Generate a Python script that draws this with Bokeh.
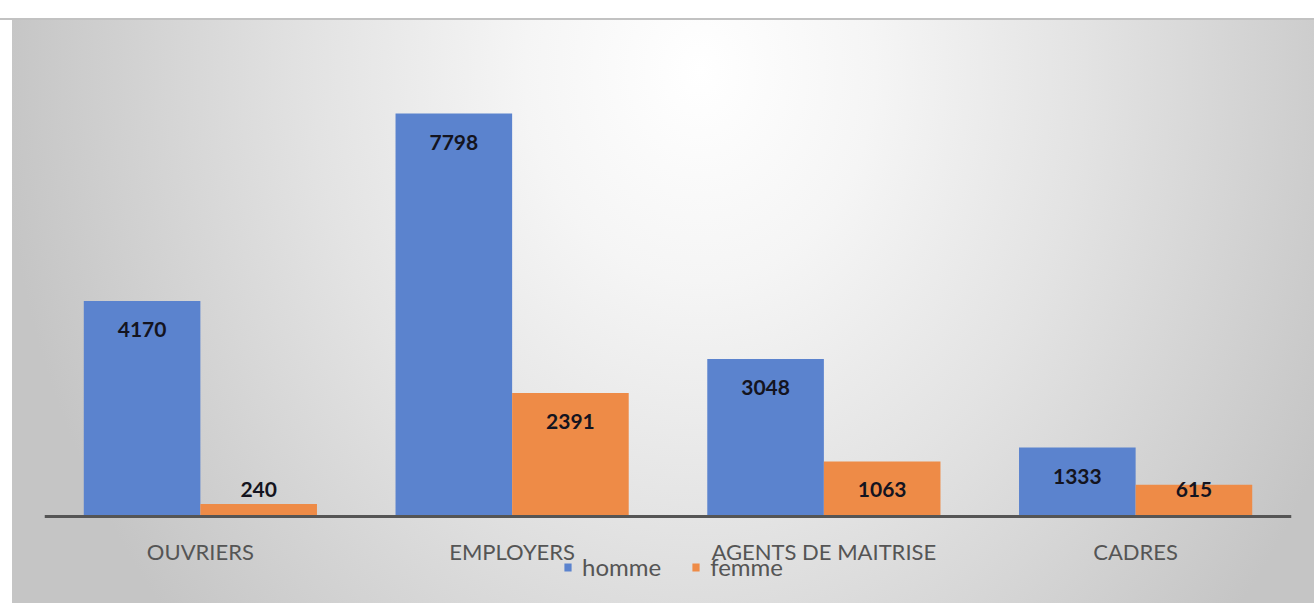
from bokeh.plotting import figure
from bokeh.models import ColumnDataSource, Range1d, Legend, LegendItem
from bokeh.transform import dodge
from bokeh.core.properties import value
from bokeh.embed import file_html
from bokeh.resources import INLINE

# ---- data ----
categories = ["OUVRIERS", "EMPLOYERS", "AGENTS DE MAITRISE", "CADRES"]
homme = [4170, 7798, 3048, 1333]
femme = [240, 2391, 1063, 615]
series_names = ["homme", "femme"]

BLUE = "#5b83ce"
ORANGE = "#ee8b47"

W, H = 1314, 603
TOP, BOTTOM, LEFT, RIGHT = 30, 3, 44, 23
BASE_PX = 516            # pixel row of the value axis zero line
ppu = 403.0 / 7798.0     # pixels per unit
Y_END = (BASE_PX - TOP) / ppu
Y_START = -((H - BOTTOM) - BASE_PX) / ppu

def offsets(vals):
    return [min(29.0, v * ppu - 27.0) for v in vals]

src = ColumnDataSource(dict(
    cat=categories, homme=homme, femme=femme,
    homme_txt=[str(v) for v in homme], femme_txt=[str(v) for v in femme],
    homme_off=offsets(homme), femme_off=offsets(femme),
))

p = figure(width=W, height=H, x_range=categories, y_range=Range1d(Y_START, Y_END),
           output_backend="svg", toolbar_location=None,
           min_border_top=TOP, min_border_bottom=BOTTOM,
           min_border_left=LEFT, min_border_right=RIGHT)
p.x_range.range_padding = 0
p.background_fill_color = None
p.border_fill_color = None
p.outline_line_color = None
p.xgrid.visible = False
p.ygrid.visible = False
p.yaxis.visible = False

bg = ("linear-gradient(#ffffff,#ffffff) 0 0/100% 18px no-repeat,"
      "linear-gradient(#c2c2c2,#c2c2c2) 0 18px/100% 2px no-repeat,"
      "linear-gradient(#ffffff,#ffffff) 0 0/12px 100% no-repeat,"
      "radial-gradient(ellipse 700px 840px at 700px 70px, #ffffff 0%, #f5f5f5 25%, "
      "#e3e3e3 55%, #cfcfcf 85%, #c5c5c5 100%)")
p.styles = {"background": bg}

BW = 0.374
OFF = BW / 2
r_h = p.vbar(x=dodge("cat", -OFF, range=p.x_range), top="homme", bottom=0, width=BW,
             source=src, fill_color=BLUE, line_color=None)
r_f = p.vbar(x=dodge("cat", OFF, range=p.x_range), top="femme", bottom=0, width=BW,
             source=src, fill_color=ORANGE, line_color=None)

for col, off, sgn in (("homme", "homme_off", -OFF), ("femme", "femme_off", OFF)):
    p.text(x=dodge("cat", sgn, range=p.x_range), y=col, text=col + "_txt",
           y_offset=off, source=src, text_align="center", text_baseline="middle",
           text_font=value("Lato"), text_font_style="bold",
           text_font_size="21px", text_color="#141420")

ax = p.xaxis[0]
ax.fixed_location = 0
ax.axis_line_color = "#555555"
ax.axis_line_width = 3
ax.major_tick_line_color = None
ax.minor_tick_line_color = None
ax.major_tick_out = 0
ax.major_tick_in = 0
ax.major_label_standoff = 21
ax.major_label_text_font = "Lato"
ax.major_label_text_font_size = "22px"
ax.major_label_text_color = "#555555"

legend_x = 563 - LEFT
legend_y = (H - BOTTOM) - 581
legend = Legend(items=[LegendItem(label=series_names[0], renderers=[r_h]),
                       LegendItem(label=series_names[1], renderers=[r_f])],
                location=(legend_x, legend_y), orientation="horizontal",
                padding=0, margin=0, spacing=30, label_standoff=10,
                glyph_width=9, glyph_height=10,
                label_text_font="Lato", label_text_font_size="24px",
                label_text_color="#555555",
                border_line_color=None, background_fill_alpha=0)
p.add_layout(legend, "center")

open("out.html", "w").write(file_html(p, INLINE))
